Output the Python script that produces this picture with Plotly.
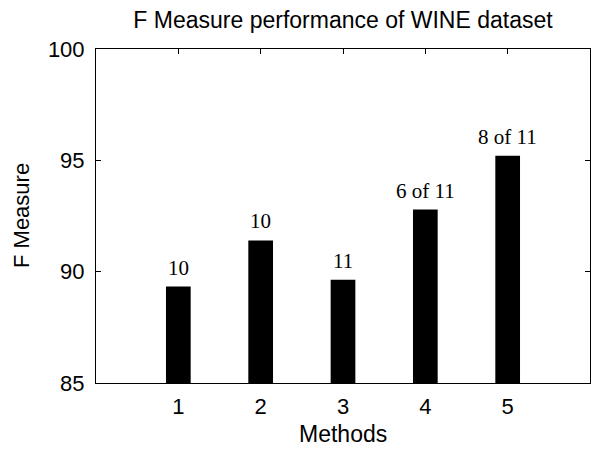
import plotly.graph_objects as go

methods = [1, 2, 3, 4, 5]
f_measure = [89.33, 91.40, 89.64, 92.79, 95.21]
bar_labels = ["10", "10", "11", "6 of 11", "8 of 11"]
y_ticks = [85, 90, 95, 100]

sans = "Liberation Sans, Arial, Helvetica, sans-serif"
serif = "Liberation Serif, Times New Roman, serif"

fig = go.Figure()
fig.add_trace(go.Bar(
    x=methods, y=f_measure, width=0.3,
    marker=dict(color="black", line=dict(width=0)),
    showlegend=False, hoverinfo="skip",
))

for xv, yv, lab in zip(methods, f_measure, bar_labels):
    fig.add_annotation(x=xv, y=yv, text=lab, showarrow=False,
                       xanchor="center", yanchor="bottom", yshift=5,
                       font=dict(family=serif, size=21, color="black"))

fig.add_annotation(xref="paper", yref="paper", x=0.5, y=0, text="Methods",
                   showarrow=False, xanchor="center", yanchor="middle", yshift=-51,
                   font=dict(family=sans, size=23, color="black"))
fig.add_annotation(xref="paper", yref="paper", x=0, y=0.5, text="F Measure",
                   showarrow=False, xanchor="center", yanchor="middle", xshift=-75,
                   textangle=-90, font=dict(family=sans, size=22, color="black"))

fig.update_layout(
    width=591, height=449,
    margin=dict(l=96, r=1, t=49, b=66, autoexpand=False),
    paper_bgcolor="white", plot_bgcolor="white",
    title=dict(text="F Measure performance of WINE dataset", x=0.5, xref="paper",
               xanchor="center", y=1 - 20 / 449, yref="container", yanchor="middle",
               automargin=False,
               font=dict(family=sans, size=23, color="black")),
    font=dict(family=sans, size=22, color="black"),
    xaxis=dict(range=[0, 6], tickvals=methods, ticktext=[str(m) for m in methods],
               ticks="inside", ticklen=5, tickcolor="black", tickwidth=1,
               showline=True, linecolor="black", linewidth=1, mirror="ticks",
               showgrid=False, zeroline=False, ticklabelstandoff=4, automargin=False,
               tickfont=dict(family=sans, size=22, color="black")),
    yaxis=dict(range=[85, 100], tickvals=y_ticks,
               ticks="inside", ticklen=5, tickcolor="black", tickwidth=1,
               showline=True, linecolor="black", linewidth=1, mirror="ticks",
               showgrid=False, zeroline=False, ticklabelstandoff=6, automargin=False,
               tickfont=dict(family=sans, size=22, color="black")),
)

fig.write_html("out.html", config={"displayModeBar": False},
               post_script="document.body.style.margin='0px';document.body.style.overflow='hidden';")
